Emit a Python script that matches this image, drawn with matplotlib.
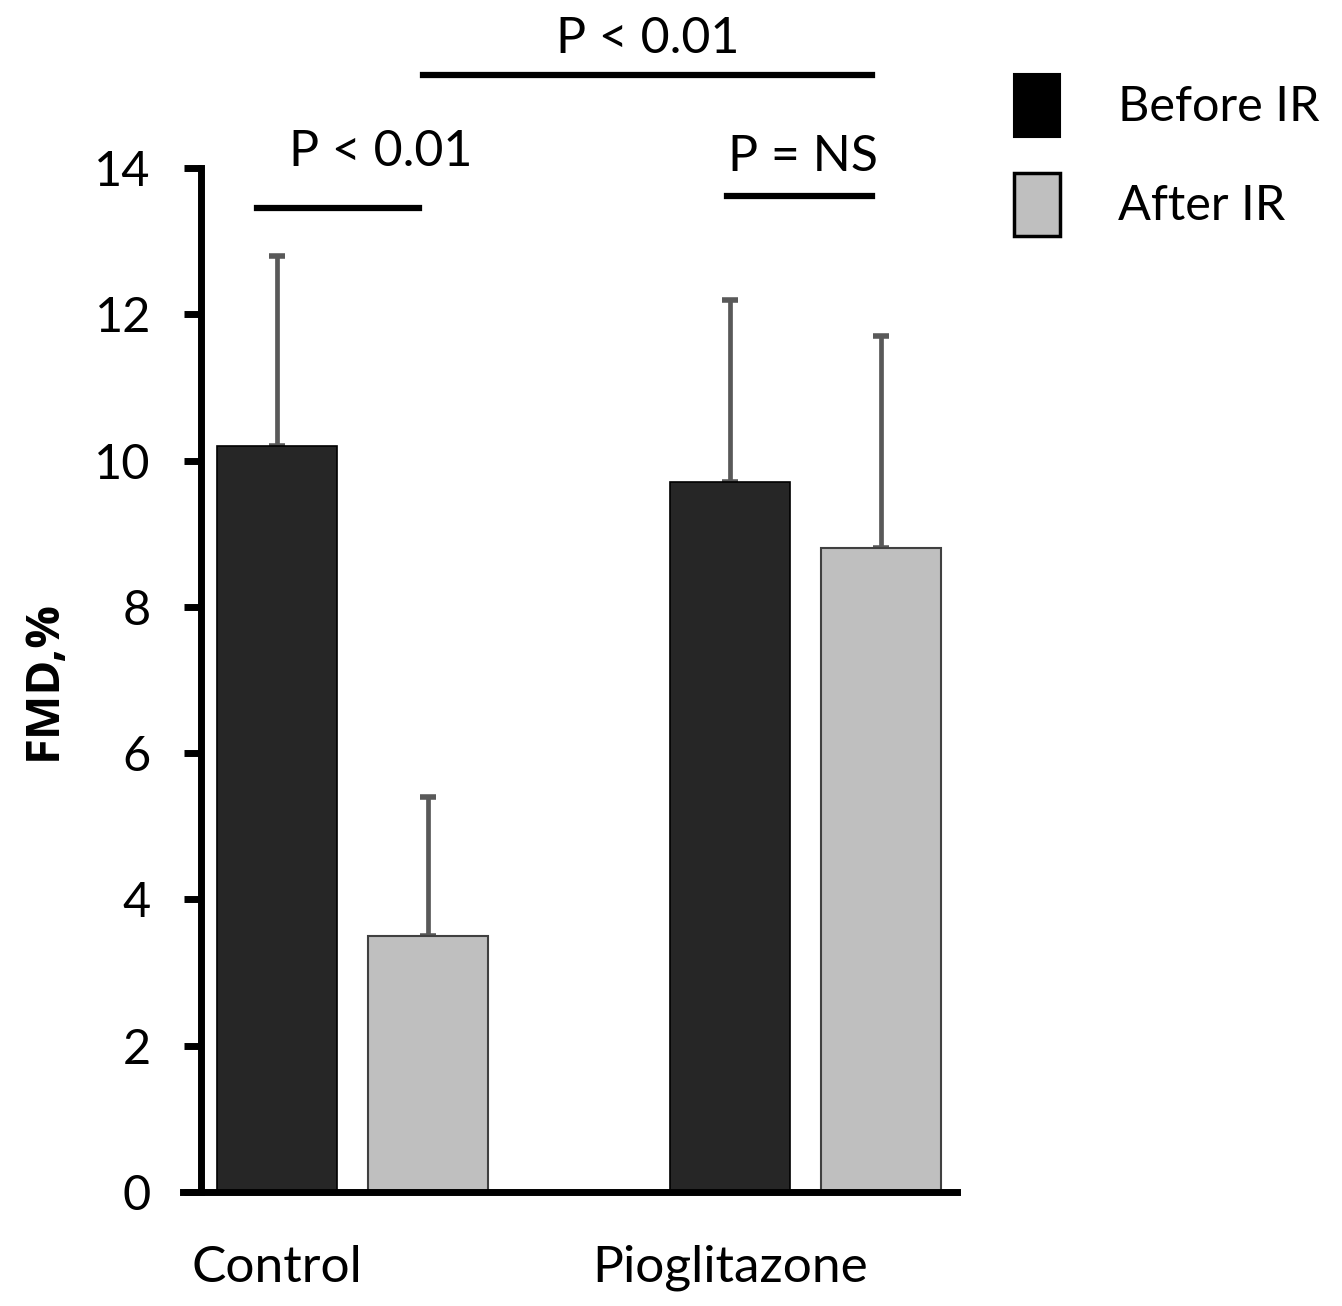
import numpy as np
import matplotlib.pyplot as plt
from matplotlib.patches import Patch

# data
groups = ["Control", "Pioglitazone"]
before_ir = [10.2, 9.7]
after_ir = [3.5, 8.8]
before_sd = [2.6, 2.5]
after_sd = [1.9, 2.9]
y_ticks = [0, 2, 4, 6, 8, 10, 12, 14]

plt.rcParams["font.family"] = ["Lato", "DejaVu Sans"]

fig = plt.figure(figsize=(13.42, 13.06), dpi=100)
ax = fig.add_axes([0.1364, 0.0873, 0.5767, 0.7841])

x_before = np.array([0.0, 3.02])
x_after = x_before + 1.005
width = 0.8

ax.bar(x_before, before_ir, width, color="#262626", edgecolor="black", linewidth=1.2, zorder=2)
ax.bar(x_after, after_ir, width, color="#bfbfbf", edgecolor="#404040", linewidth=1.5, zorder=2)

err_kw = dict(fmt="none", ecolor="#595959", elinewidth=3.4, capsize=6, capthick=4, zorder=1)
ax.errorbar(x_before, before_ir, yerr=[np.zeros(2), before_sd], **err_kw)
ax.errorbar(x_after, after_ir, yerr=[np.zeros(2), after_sd], **err_kw)

ax.set_xlim(-0.627, 4.533)
ax.set_ylim(0, 14)
ax.set_yticks(y_ticks)
ax.set_xticks(x_before)
ax.set_xticklabels(groups, fontsize=37)
ax.tick_params(axis="y", length=12, width=5, labelsize=35, pad=24)
ax.tick_params(axis="x", length=0, pad=38)
ax.set_ylabel("FMD,%", fontsize=34, fontweight="bold", labelpad=20, family=["Open Sans", "DejaVu Sans"])

for s in ["top", "right"]:
    ax.spines[s].set_visible(False)
ax.spines["left"].set_position(("axes", 0.023))
ax.spines["left"].set_bounds(0, 14)
ax.spines["left"].set_linewidth(5)
ax.spines["bottom"].set_linewidth(5)

# significance brackets
lw = 4.5
ax.plot([-0.133, 0.947], [13.45, 13.45], color="black", lw=lw, clip_on=False)
ax.text(0.693, 13.9, "P < 0.01", ha="center", va="bottom", fontsize=36)
ax.plot([3.0, 3.967], [13.62, 13.62], color="black", lw=lw, clip_on=False)
ax.text(3.507, 13.84, "P = NS", ha="center", va="bottom", fontsize=36)
ax.plot([0.973, 3.967], [15.27, 15.27], color="black", lw=lw, clip_on=False)
ax.text(2.47, 15.45, "P < 0.01", ha="center", va="bottom", fontsize=36, clip_on=False)

handles = [Patch(facecolor="black", edgecolor="black", linewidth=1.5),
           Patch(facecolor="#bfbfbf", edgecolor="black", linewidth=2.5)]
fig.legend(handles, ["Before IR", "After IR"], loc="upper left",
           bbox_to_anchor=(0.741, 0.958), frameon=False, fontsize=35,
           handlelength=0.95, handleheight=1.6, handletextpad=1.2,
           labelspacing=0.75, borderaxespad=0)

fig.savefig("out.png", dpi=100)
